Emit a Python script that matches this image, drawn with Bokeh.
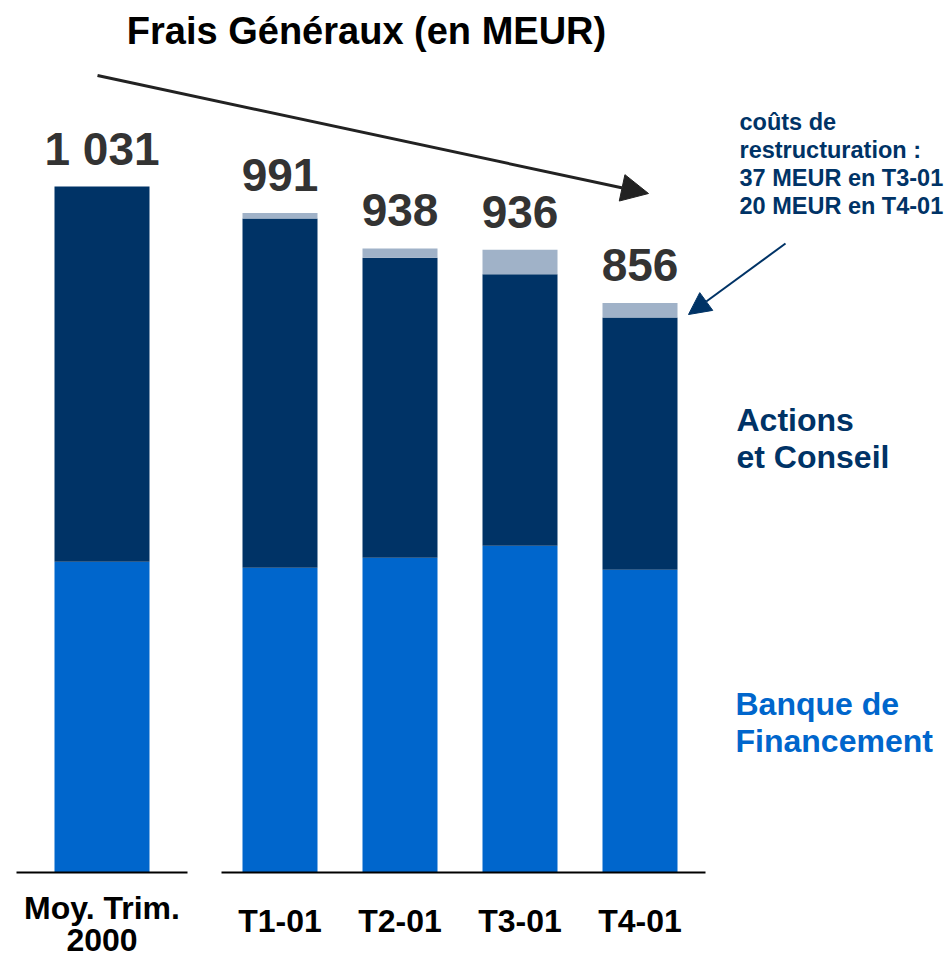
from bokeh.plotting import figure
from bokeh.models import ColumnDataSource, Range1d, Arrow, NormalHead
from bokeh.core.properties import value
from bokeh.embed import file_html
from bokeh.resources import INLINE

# ---------------- data ----------------
categories = ["Moy. Trim. 2000", "T1-01", "T2-01", "T3-01", "T4-01"]
banque_financement = [467, 458, 473, 491, 455]
actions_conseil = [564, 525, 451, 408, 379]
restructuration = [0, 8, 14, 37, 22]
totals = [1031, 991, 938, 936, 856]
total_labels = ["1 031", "991", "938", "936", "856"]

# ---------------- layout ----------------
FW, FH = 945, 958
M = 0                       # offset of figure in page
K = 686.0 / 1031.0          # px per MEUR
BASE_PX = 872               # baseline in figure px (from top)
UX = 120.0                  # px per x unit (bar spacing)
GAP = 58.0 / UX             # extra gap after first bar
X0 = -101.5 / UX
BL = 0.39                   # baseline correction factor (fraction of font size)

y_start = -(FH - BASE_PX) / K
y_end = BASE_PX / K
x_start = X0
x_end = X0 + FW / UX


def dx(sx):
    return x_start + (sx - M) / UX


def dy(sy):
    return y_end - (sy - M) / K


xs = [0.0] + [i + GAP for i in range(1, len(categories))]
ws = [95.0 / UX] + [75.0 / UX] * (len(categories) - 1)

src = ColumnDataSource(dict(
    x=xs, w=ws,
    banque=banque_financement, actions=actions_conseil, restr=restructuration,
    total=totals, lab=total_labels,
))

p = figure(width=FW, height=FH, output_backend="svg", toolbar_location=None,
           x_range=Range1d(x_start, x_end), y_range=Range1d(y_start, y_end),
           min_border=0, x_axis_location=None, y_axis_location=None)
p.outline_line_color = None
p.grid.visible = False
p.background_fill_color = "white"

BLUE = "#0066CC"
NAVY = "#003366"
LIGHT = "#A0B2C8"

p.vbar_stack(["banque", "actions", "restr"], x="x", width="w", source=src,
             color=[BLUE, NAVY, LIGHT], line_color=None)

FONT = value("Liberation Sans")

# value labels above bars
p.text(x="x", y="total", text="lab", source=src, text_font=FONT,
       text_font_style="bold", text_font_size="46px", text_color="#333333",
       text_align="center", text_baseline="alphabetic", y_offset=-20 - BL * 46)

# baseline segments
p.line([xs[0] - 85.5 / UX, xs[0] + 85.5 / UX], [0, 0], line_color="black", line_width=2)
p.line([xs[1] - 58.5 / UX, xs[-1] + 65.5 / UX], [0, 0], line_color="black", line_width=2)

# category labels
CF = 32
first = categories[0].split(" ")
p.text(x=[xs[0]], y=[0], text=[" ".join(first[:2])], text_font=FONT,
       text_font_style="bold", text_font_size=f"{CF}px", text_color="black",
       text_align="center", text_baseline="alphabetic", y_offset=48 - BL * CF)
p.text(x=[xs[0]], y=[0], text=[first[2]], text_font=FONT,
       text_font_style="bold", text_font_size=f"{CF}px", text_color="black",
       text_align="center", text_baseline="alphabetic", y_offset=80 - BL * CF)
p.text(x=xs[1:], y=[0] * 4, text=categories[1:], text_font=FONT,
       text_font_style="bold", text_font_size=f"{CF}px", text_color="black",
       text_align="center", text_baseline="alphabetic", y_offset=61 - BL * CF)

# title
p.text(x=[dx(366)], y=[dy(45 - BL * 38)], text=["Frais Généraux (en MEUR)"], text_font=FONT,
       text_font_style="bold", text_font_size="38px", text_color="black",
       text_align="center", text_baseline="alphabetic")

# trend arrow
p.add_layout(Arrow(x_start=dx(97), y_start=dy(75), x_end=dx(648), y_end=dy(193),
                   line_color="#222222", line_width=3,
                   end=NormalHead(size=27, fill_color="#222222", line_color="#222222")))

# side labels
SF = 32
p.text(x=[dx(736)] * 2, y=[dy(432 - BL * SF), dy(469 - BL * SF)], text=["Actions", "et Conseil"],
       text_font=FONT, text_font_style="bold", text_font_size=f"{SF}px", text_color=NAVY,
       text_align="left", text_baseline="alphabetic")
p.text(x=[dx(735)] * 2, y=[dy(716 - BL * SF), dy(753 - BL * SF)], text=["Banque de", "Financement"],
       text_font=FONT, text_font_style="bold", text_font_size=f"{SF}px", text_color=BLUE,
       text_align="left", text_baseline="alphabetic")

# restructuring note
NF = 23.5
note = ["coûts de", "restructuration :", "37 MEUR en T3-01", "20 MEUR en T4-01"]
p.text(x=[dx(739)] * 4, y=[dy(v - BL * NF) for v in (131, 159, 187, 215)], text=note,
       text_font=FONT, text_font_style="bold", text_font_size=f"{NF}px", text_color=NAVY,
       text_align="left", text_baseline="alphabetic")
p.add_layout(Arrow(x_start=dx(785), y_start=dy(243), x_end=dx(688), y_end=dy(314),
                   line_color=NAVY, line_width=2,
                   end=NormalHead(size=22, fill_color=NAVY, line_color=NAVY)))

open("out.html", "w").write(file_html(p, INLINE))
